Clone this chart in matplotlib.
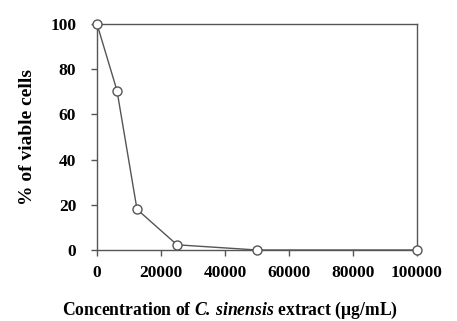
import matplotlib.pyplot as plt

plt.rcParams['font.family'] = ['Liberation Serif', 'DejaVu Serif']
plt.rcParams['font.weight'] = 'bold'
plt.rcParams['mathtext.fontset'] = 'custom'
plt.rcParams['mathtext.rm'] = 'Liberation Serif:bold'
plt.rcParams['mathtext.bfit'] = 'Liberation Serif:italic:bold'
plt.rcParams['mathtext.it'] = 'Liberation Serif:italic:bold'

conc = [0, 6250, 12500, 25000, 50000, 100000]
viable = [100, 70.5, 18, 2.3, 0, 0]
xticks = [0, 20000, 40000, 60000, 80000, 100000]
yticks = [0, 20, 40, 60, 80, 100]

fig = plt.figure(figsize=(4.57, 3.21), dpi=100)
ax = fig.add_axes([97 / 457, 1 - 250 / 321, 320 / 457, 226 / 321])

line_col = '#555555'
ax.plot(conc, viable, '-o', color=line_col, lw=1.0, markersize=6.5,
        markerfacecolor='white', markeredgecolor=line_col, markeredgewidth=1.0,
        clip_on=False, zorder=3)

ax.set_xlim(0, 100000)
ax.set_ylim(0, 100)
ax.set_xticks(xticks)
ax.set_yticks(yticks)
for s in ax.spines.values():
    s.set_color(line_col)
    s.set_linewidth(1.0)
ax.tick_params(direction='out', length=4, width=1, color=line_col,
               labelsize=12.5, pad=7)
ax.tick_params(axis='y', pad=11)

ax.set_ylabel('% of viable cells', fontsize=14, fontweight='bold', labelpad=10)
fig.text(230 / 457, 1 - 310 / 321,
         r'Concentration of $\mathbfit{C.}\,\mathbfit{sinensis}$ extract (μg/mL)',
         fontsize=12.7, fontweight='bold', ha='center', va='center')

fig.savefig('out.png', dpi=100)
